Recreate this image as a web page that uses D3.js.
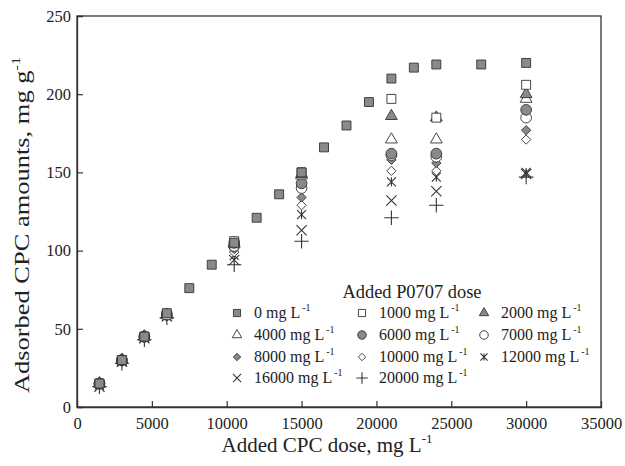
<!DOCTYPE html>
<html>
<head>
<meta charset="utf-8">
<script src="https://cdn.jsdelivr.net/npm/d3@7"></script>
<style>
  body { margin: 0; background: #fff; }
  svg text { font-family: "Liberation Serif", Tinos, "Times New Roman", serif !important; fill: #222; }
</style>
</head>
<body>
<script>
// data
var cpcDose0 = [1500, 3000, 4500, 6000, 7500, 9000, 10500, 12000, 13500, 15000, 16500, 18000, 19500, 21000, 22500, 24000, 27000, 30000];
var amount0 = [15, 30, 45, 60, 76, 91, 105, 121, 136, 150, 166, 180, 195, 210, 217, 219, 219, 220];

var cpcDose = [1500, 3000, 4500, 6000, 10500, 15000, 21000, 24000, 30000];
var amount1000 = [15, 30, 45, 59, 106, 150, 197, 185, 206];
var amount2000 = [15, 30, 45, 59, 105, 149, 186, 185, 200];
var amount4000 = [15, 30, 45, 59, 104, 148, 171, 171, 197];
var amount6000 = [15, 30, 45, 59, 105, 143, 162, 162, 190];
var amount7000 = [15, 30, 45, 59, 103, 140, 161, 160, 185];
var amount8000 = [14, 29, 44, 58, 101, 134, 158, 156, 177];
var amount10000 = [14, 29, 44, 58, 99, 129, 151, 151, 171];
var amount12000 = [14, 29, 44, 58, 97, 123, 144, 147, 150];
var amount16000 = [13, 29, 44, 58, 94, 113, 132, 138, 149];
var amount20000 = [13, 28, 43, 57, 91, 106, 121, 129, 147];

var legendLabels = ["0", "1000", "2000", "4000", "6000", "7000", "8000", "10000", "12000", "16000", "20000"];
var xTicks = [0, 5000, 10000, 15000, 20000, 25000, 30000, 35000];
var yTicks = [0, 50, 100, 150, 200, 250];

var gray = "#8a8a8a", dark = "#333";

// marker style for each series, in legend order
var styles = [
  {sym: d3.symbolSquare, size: 80, fill: gray},
  {sym: d3.symbolSquare, size: 80, fill: "#fff"},
  {sym: d3.symbolTriangle, size: 60, fill: gray},
  {sym: d3.symbolTriangle, size: 60, fill: "#fff"},
  {sym: d3.symbolCircle, size: 90, fill: gray},
  {sym: d3.symbolCircle, size: 90, fill: "#fff"},
  {sym: d3.symbolDiamond2, size: 55, fill: gray},
  {sym: d3.symbolDiamond2, size: 55, fill: "#fff"},
  {sym: "star", size: 9, fill: "none"},
  {sym: d3.symbolTimes, size: 70, fill: "none"},
  {sym: d3.symbolPlus, size: 70, fill: "none"}
];

var series = [
  {x: cpcDose0, y: amount0},
  {x: cpcDose, y: amount1000},
  {x: cpcDose, y: amount2000},
  {x: cpcDose, y: amount4000},
  {x: cpcDose, y: amount6000},
  {x: cpcDose, y: amount7000},
  {x: cpcDose, y: amount8000},
  {x: cpcDose, y: amount10000},
  {x: cpcDose, y: amount12000},
  {x: cpcDose, y: amount16000},
  {x: cpcDose, y: amount20000}
];

var W = 625, H = 466;
var margin = {top: 16, right: 24, bottom: 59, left: 77},
    width = W - margin.left - margin.right,
    height = H - margin.top - margin.bottom;

var x = d3.scaleLinear().domain([0, 35000]).range([0, width]);
var y = d3.scaleLinear().domain([0, 250]).range([height, 0]);

var svg = d3.select("body").append("svg")
    .attr("width", W)
    .attr("height", H);

var g = svg.append("g")
    .attr("transform", "translate(" + margin.left + "," + margin.top + ")");

// frame
g.append("rect")
    .attr("width", width).attr("height", height)
    .attr("fill", "none").attr("stroke", dark).attr("stroke-width", 1.3);

// axes with inward ticks
var xAxis = g.append("g").attr("transform", "translate(0," + height + ")")
    .call(d3.axisBottom(x).tickValues(xTicks).tickSize(-6).tickPadding(10).tickFormat(d3.format("d")));
var yAxis = g.append("g")
    .call(d3.axisLeft(y).tickValues(yTicks).tickSize(-6).tickPadding(6));

[xAxis, yAxis].forEach(function(a) {
  a.attr("font-family", null);
  a.select(".domain").attr("stroke", dark).attr("stroke-width", 1.3);
  a.selectAll(".tick line").attr("stroke", dark).attr("stroke-width", 1.2);
  a.selectAll(".tick text").style("font-size", "16.5px").attr("fill", "#222");
});
xAxis.selectAll(".tick").filter(function(d) { return d === 0 || d === 35000; }).select("line").remove();
yAxis.selectAll(".tick").filter(function(d) { return d === 0 || d === 250; }).select("line").remove();

// marker drawing
function starPath(r) {
  return "M" + (-r) + "," + (-r) + "L" + r + "," + r +
         "M" + r + "," + (-r) + "L" + (-r) + "," + r +
         "M0," + (-r) + "L0," + r;
}
function markerPath(st, scale) {
  if (st.sym === "star") return starPath(st.size / 2 * scale);
  return d3.symbol().type(st.sym).size(st.size * scale * scale)();
}
function drawMarker(sel, st, scale) {
  sel.append("path")
      .attr("d", markerPath(st, scale))
      .attr("fill", st.fill)
      .attr("stroke", dark)
      .attr("stroke-width", st.fill === "none" ? 1.1 : 0.9);
}

// points, drawn from last series to first so the 0 mg squares sit underneath
for (var s = series.length - 1; s >= 0; s--) {
  var pts = series[s].y.map(function(v, i) { return [series[s].x[i], v]; });
  var grp = g.append("g");
  grp.selectAll("g").data(pts).enter().append("g")
      .attr("transform", function(d) { return "translate(" + x(d[0]) + "," + y(d[1]) + ")"; })
      .each(function() { drawMarker(d3.select(this), styles[s], 1); });
}

// legend
var leg = svg.append("g");
leg.append("text")
    .attr("x", 412).attr("y", 298)
    .attr("text-anchor", "middle")
    .style("font-size", "18.4px")
    .text("Added P0707 dose");

var colX = [237, 362, 484], rowY = [313, 335, 357, 378];
legendLabels.forEach(function(lab, i) {
  var cx = colX[i % 3], cy = rowY[Math.floor(i / 3)];
  var item = leg.append("g").attr("transform", "translate(" + cx + "," + cy + ")");
  drawMarker(item, styles[i], 0.8);
  var t = item.append("text").attr("x", 17).attr("y", 5).style("font-size", "16px");
  t.append("tspan").text(lab + " mg L");
  t.append("tspan").attr("dx", 2).attr("dy", -7).style("font-size", "10px").text("-1");
});

// axis titles
var xt = svg.append("text")
    .attr("x", 327).attr("y", 452)
    .attr("text-anchor", "middle")
    .style("font-size", "21px");
xt.append("tspan").text("Added CPC dose, mg L");
xt.append("tspan").attr("dy", -9).style("font-size", "13px").text("-1");

var yt = svg.append("text")
    .attr("transform", "translate(29,225) rotate(-90) scale(1.26,1)")
    .attr("text-anchor", "middle")
    .style("font-size", "21px");
yt.append("tspan").text("Adsorbed CPC amounts, mg g");
yt.append("tspan").attr("dy", -9).style("font-size", "13px").text("-1");
</script>
</body>
</html>
